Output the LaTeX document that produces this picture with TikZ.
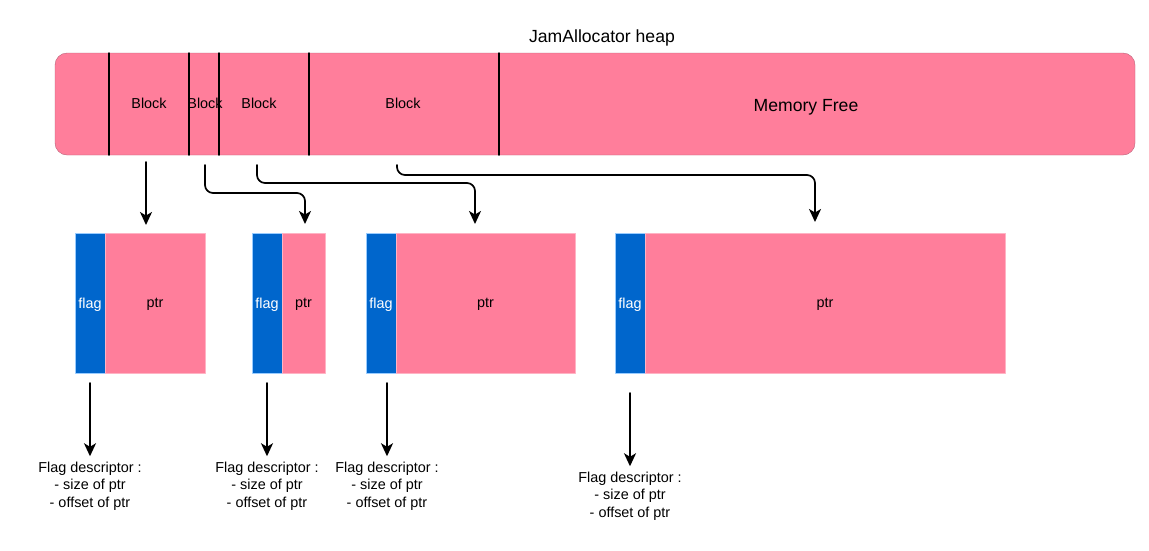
\documentclass[tikz,border=0pt]{standalone}
\usepackage{fontspec}
\setmainfont{Liberation Sans}
\usetikzlibrary{arrows.meta,positioning}
\definecolor{ffqqzz}{rgb}{1.,0.4941176470588235,0.6078431372549019}
\definecolor{bbwwxx}{rgb}{0.7176470588235294,0.3803921568627451,0.4705882352941176}
\definecolor{ffzzcc}{rgb}{1.,0.7019607843137254,0.7686274509803922}
\definecolor{qqwwcc}{rgb}{0.,0.4,0.8}
\definecolor{zzccff}{rgb}{0.6,0.8,1.}
\begin{document}
\begin{tikzpicture}[line cap=round,line join=round,>={Stealth[length=13pt,width=12pt,inset=3.5pt]},x=1pt,y=-1pt,
  txt/.style={font=\fontsize{14.4}{17.5}\selectfont,align=center},
  bigtxt/.style={font=\fontsize{17.6}{21}\selectfont},
  flagbox/.style={draw=zzccff,fill=qqwwcc,text=white,minimum width=30pt,minimum height=140pt,inner sep=0pt,outer sep=0pt,text depth=0pt,txt},
  ptrbox/.style={draw=ffzzcc,fill=ffqqzz,minimum height=140pt,inner sep=0pt,outer sep=0pt,text depth=0pt,txt},
  link/.style={->,line width=1.7pt,rounded corners=8pt}]
\useasboundingbox (0,0) rectangle (1149,550);
% heap
\node[bigtxt] (title) at (602,38) {JamAllocator heap};
\node[draw=bbwwxx,fill=ffqqzz,rounded corners=12pt,minimum width=1080pt,minimum height=102pt,outer sep=0pt] (heap) at (595,104) {};
\foreach \x in {109,189,219,309,499}
\draw[line width=1.5pt] (\x,0 |- heap.north) -- (\x,0 |- heap.south);
\node[txt] (b1) at (149,103) {Block};
\node[txt] (b2) at (205,103) {Block};
\node[txt] (b3) at (259,103) {Block};
\node[txt] (b4) at (403,103) {Block};
\node[bigtxt] (free) at (806,107) {Memory Free};
% blocks
\node[flagbox,anchor=north west] (f1) at (75,233) {flag};
\node[ptrbox,minimum width=100pt,right=0pt of f1] (p1) {ptr};
\node[flagbox,anchor=north west] (f2) at (252,233) {flag};
\node[ptrbox,minimum width=43pt,right=0pt of f2] (p2) {ptr};
\node[flagbox,anchor=north west] (f3) at (366,233) {flag};
\node[ptrbox,minimum width=179pt,right=0pt of f3] (p3) {ptr};
\node[flagbox,anchor=north west] (f4) at (615,233) {flag};
\node[ptrbox,minimum width=360pt,right=0pt of f4] (p4) {ptr};
% descriptors
\node[txt] (d1) at (90,486) {Flag descriptor :\\- size of ptr\\- offset of ptr};
\node[txt] (d2) at (267,486) {Flag descriptor :\\- size of ptr\\- offset of ptr};
\node[txt] (d3) at (387,486) {Flag descriptor :\\- size of ptr\\- offset of ptr};
\node[txt] (d4) at (630,496) {Flag descriptor :\\- size of ptr\\- offset of ptr};
% links
\coordinate (s1) at (146,162);
\coordinate (s2) at (205,165);
\coordinate (s3) at (257,165);
\coordinate (s4) at (397,165);
\draw[link,shorten >=8pt] (s1) -- (s1 |- p1.north);
\draw[link,shorten >=9pt] (s2) |- (305,193) -- (305,0 |- p2.north);
\draw[link,shorten >=9pt] (s3) |- (475,183) -- (475,0 |- p3.north);
\draw[link,shorten >=11pt] (s4) |- (815,175) -- (815,0 |- p4.north);
\draw[link,shorten <=10pt,shorten >=2pt] (d1.north |- f1.south) -- (d1.north);
\draw[link,shorten <=10pt,shorten >=2pt] (d2.north |- f2.south) -- (d2.north);
\draw[link,shorten <=10pt,shorten >=2pt] (d3.north |- f3.south) -- (d3.north);
\draw[link,shorten <=20pt,shorten >=2pt] (d4.north |- f4.south) -- (d4.north);
\end{tikzpicture}
\end{document}
